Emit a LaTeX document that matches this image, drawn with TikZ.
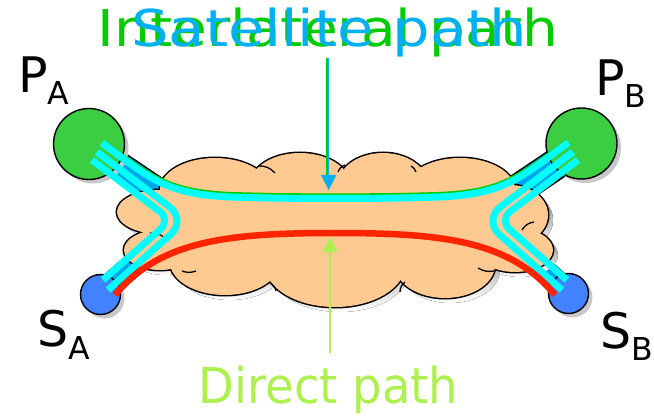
\documentclass[tikz,border=0pt]{standalone}
\usepackage{fontspec}
\setmainfont{DejaVu Sans}
\usetikzlibrary{arrows.meta,shadows,calc}
\definecolor{pgreen}{RGB}{60,206,66}
\definecolor{sblue}{RGB}{66,130,255}
\definecolor{peach}{RGB}{255,201,146}
\definecolor{shade}{RGB}{200,200,200}
\definecolor{cyanl}{RGB}{0,255,255}
\definecolor{intgreen}{RGB}{0,204,0}
\definecolor{satblue}{RGB}{0,176,240}
\definecolor{redl}{RGB}{255,36,0}
\definecolor{dirgreen}{RGB}{174,240,80}
\definecolor{bandblue}{RGB}{0,165,235}
\pgfdeclarelayer{bg}
\pgfsetlayers{bg,main}
\begin{document}
\begin{tikzpicture}[x=1pt,y=-1pt,
  hub/.style={circle,draw=black,line width=1.4pt,inner sep=0pt,
    drop shadow={shadow xshift=4pt,shadow yshift=-4pt,fill=shade,opacity=1}},
  ppoint/.style={hub,fill=pgreen,minimum size=71pt},
  spoint/.style={hub,fill=sblue,minimum size=40pt},
  lab/.style={inner sep=0pt,anchor=base west,font=\fontsize{49}{49}\selectfont},
  bigtext/.style={inner sep=0pt,anchor=base west},
  cyanpath/.style={draw=cyanl,line width=7pt},
  greenpath/.style={draw=intgreen,line width=7pt},
  redpath/.style={draw=redl,line width=6.5pt},
  tick/.style={draw=black,line width=1.3pt},
  tipstyle/.style={-{Triangle[length=15pt,width=15pt]}}
]
\useasboundingbox (0,0) rectangle (654,417);

% end points / hubs
\node[ppoint] (PA) at (89,144) {};
\node[spoint] (SA) at (100.5,294.5) {};
\node[ppoint] (PB) at (581.5,143.5) {};
\node[spoint] (SB) at (568.5,293.5) {};

\coordinate (pae) at (168,197);
\coordinate (sae) at (147,249);
\coordinate (pbe) at (502,197);
\coordinate (sbe) at (523,248);

\begin{pgfonlayer}{bg}
  % stub bands (shadow, outline, fill)
  \draw[shade,line width=26pt] ($(PA)+(4,4)$) -- ($(pae)+(4,4)$);
  \draw[shade,line width=26pt] ($(PB)+(4,4)$) -- ($(pbe)+(4,4)$);
  \draw[shade,line width=18pt] ($(SA)+(2,1)$) -- ($(sae)+(4,4)$);
  \draw[shade,line width=18pt] ($(SB)+(6,1)$) -- ($(sbe)+(4,4)$);
  \draw[black,line width=26pt] (PA.center) -- (pae);
  \draw[black,line width=26pt] (PB.center) -- (pbe);
  \draw[black,line width=18pt] ($(SA)+(-2.5,-3)$) -- (sae);
  \draw[black,line width=18pt] ($(SB)+(2.5,-3)$) -- (sbe);
  \draw[bandblue,line width=23pt] (PA.center) -- (pae);
  \draw[bandblue,line width=23pt] (PB.center) -- (pbe);
  \draw[bandblue,line width=15pt] ($(SA)+(-2.5,-3)$) -- (sae);
  \draw[bandblue,line width=15pt] ($(SB)+(2.5,-3)$) -- (sbe);
  % cloud: shadow, outline, fill
  \begin{scope}[shift={(5,5)}]
    \foreach \cx/\cy/\rx/\ry in {215/190/55/32, 300/185/50/32, 383/185/45/32, 460/190/55/32, 510/215/38/30, 515/250/38/22, 445/265/50/33, 335/265/70/42, 225/262/55/33, 160/250/36/20, 160/212/43/22, 335/225/170/55}
      \fill[shade] (\cx,\cy) ellipse [x radius=\rx, y radius=\ry];
  \end{scope}
  \foreach \cx/\cy/\rx/\ry in {215/190/55/32, 300/185/50/32, 383/185/45/32, 460/190/55/32, 510/215/38/30, 515/250/38/22, 445/265/50/33, 335/265/70/42, 225/262/55/33, 160/250/36/20, 160/212/43/22, 335/225/170/55}
    \draw[black,line width=3pt] (\cx,\cy) ellipse [x radius=\rx, y radius=\ry];
  \foreach \cx/\cy/\rx/\ry in {215/190/55/32, 300/185/50/32, 383/185/45/32, 460/190/55/32, 510/215/38/30, 515/250/38/22, 445/265/50/33, 335/265/70/42, 225/262/55/33, 160/250/36/20, 160/212/43/22, 335/225/170/55}
    \fill[peach] (\cx,\cy) ellipse [x radius=\rx, y radius=\ry];
  % small inner arcs of the cloud outline
  \draw[tick] (258,166) to[bend left=25] (275,173);
  \draw[tick] (345,165) to[bend right=25] (338,172);
  \draw[tick] (411,166) to[bend left=20] (416,172);
  \draw[tick] (534,222) to[bend right=25] (522,230);
  \draw[tick] (494,271) to[bend left=20] (478,268);
  \draw[tick] (405,282) to[bend right=25] (400,292);
  \draw[tick] (270,283) to[bend left=25] (276,291);
  \draw[tick] (182,271) to[bend right=20] (196,271);
  \draw[tick] (150,233) to[bend left=20] (165,238);
\end{pgfonlayer}

% Interlateral (green) and satellite (cyan) path P_A -> P_B
\draw[greenpath,yshift=1.6pt] ($(PA)+(13,-1)$) .. controls (150,178) and (165,194) .. (230,197)
   .. controls (290,199) and (380,199) .. (440,197) .. controls (505,194) and (520,178) .. ($(PB)+(-13,-1)$);
\draw[cyanpath] ($(PA)+(13,-1)$) .. controls (150,178) and (165,194) .. (230,197)
   .. controls (290,199) and (380,199) .. (440,197) .. controls (505,194) and (520,178) .. ($(PB)+(-13,-1)$);
% P -> S detours
\draw[cyanpath,rounded corners=22pt] ($(PA)+(8,8)$) -- (187,220) -- ($(SA)+(7.5,-4.5)$);
\draw[cyanpath,rounded corners=14pt] ($(PA)+(3,16)$) -- (171,220) -- ($(SA)+(2.5,-14.5)$);
\draw[cyanpath,rounded corners=22pt] ($(PB)+(-8.5,8.5)$) -- (483,220) -- ($(SB)+(-6.5,-3.5)$);
\draw[cyanpath,rounded corners=14pt] ($(PB)+(-3.5,16.5)$) -- (499,220) -- ($(SB)+(-1.5,-13.5)$);
% direct path
\draw[redpath] ($(SA)+(14.5,0.5)$) .. controls (160,240) and (230,233) .. (335,233)
   .. controls (440,233) and (510,240) .. ($(SB)+(-13.5,1.5)$);

% labels
\node[lab] (PAl) at (18,93) {P\raisebox{-12pt}{\fontsize{31.5}{31.5}\selectfont A}};
\node[lab] (PBl) at (595,96) {P\raisebox{-12pt}{\fontsize{31.5}{31.5}\selectfont B}};
\node[lab] (SAl) at (37,346) {S\raisebox{-13pt}{\fontsize{31.5}{31.5}\selectfont A}};
\node[lab] (SBl) at (600,348) {S\raisebox{-13pt}{\fontsize{31.5}{31.5}\selectfont B}};

\node[bigtext,text=intgreen,font=\fontsize{50.8}{50.8}\selectfont] (inter) at (97.4,47) {\scalebox{1.114}[1]{Interlateral path}};
\node[bigtext,text=satblue,font=\fontsize{50.8}{50.8}\selectfont] (sat) at (131,47) {\scalebox{1.166}[1]{Satellite path}};
\node[bigtext,text=dirgreen,font=\fontsize{49.4}{49.4}\selectfont] (direct) at (198.5,403) {\scalebox{0.941}[1]{Direct path}};

% arrows
\coordinate (sattip) at (328,190);
\coordinate (dirtip) at (330,237);
\coordinate (dirbase) at (330,353);
\draw[intgreen,line width=1.5pt] ($(inter.south -| sattip)+(-0.8,0)$) -- ($(sattip)+(-0.8,-14)$);
\draw[satblue,line width=1.5pt,tipstyle] ($(sat.south -| sattip)+(0.7,0)$) -- ($(sattip)+(0.7,0)$);
\draw[dirgreen,line width=2pt,tipstyle] (dirbase) -- (dirtip);
\end{tikzpicture}
\end{document}
